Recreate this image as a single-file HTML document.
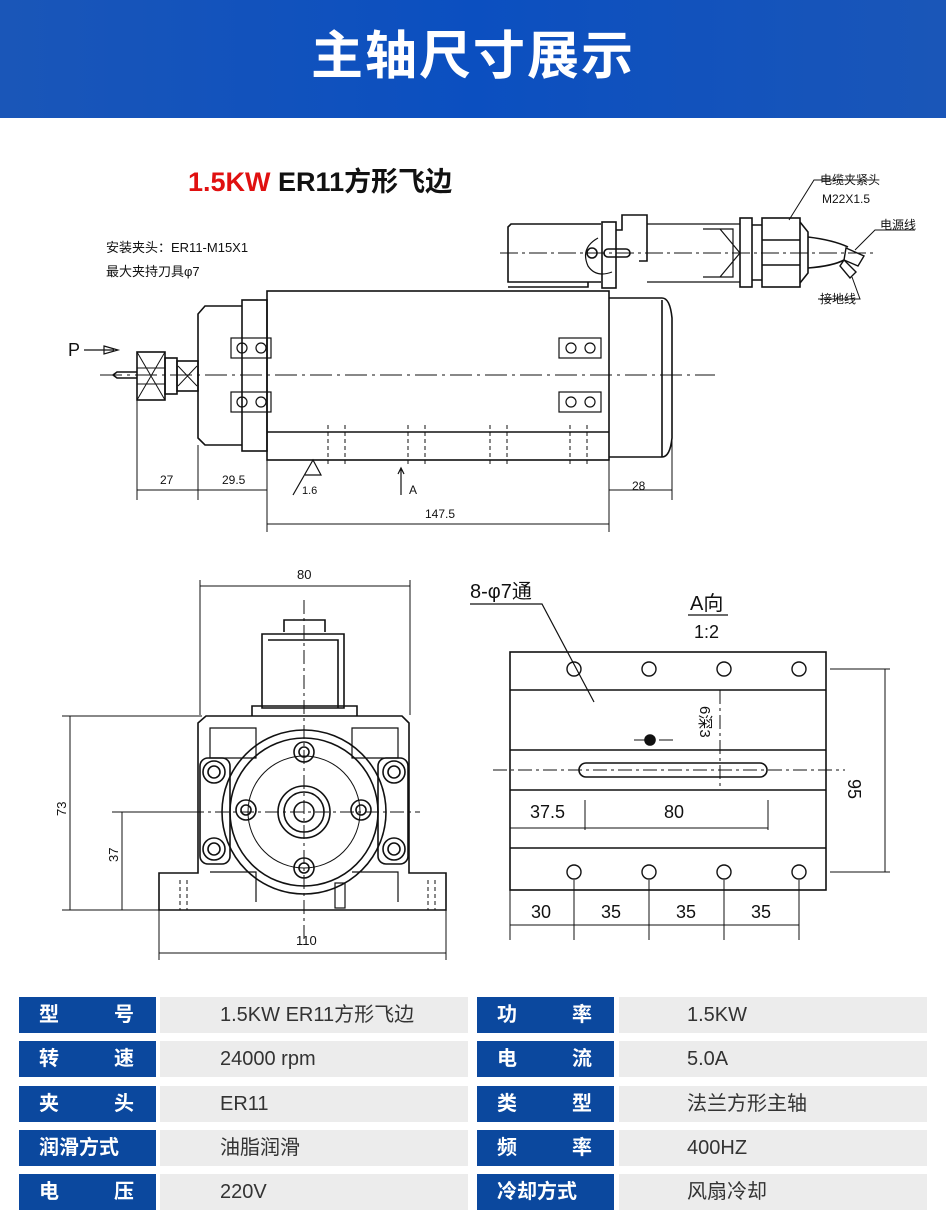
<!DOCTYPE html>
<html><head><meta charset="utf-8"><style>
body{margin:0;width:946px;height:1227px;background:#fff;position:relative;overflow:hidden;font-family:"Liberation Sans","Noto Sans CJK SC",sans-serif}
.hdr{position:absolute;left:0;top:0;width:946px;height:118px;background:linear-gradient(90deg,#1a56b8,#0b4fc0 50%,#1a56b8);color:#fff;font-weight:bold;font-size:52px;text-align:center;line-height:114px;letter-spacing:2px}
.sub{position:absolute;left:188px;top:160px;font-size:27px;font-weight:bold;color:#111}
.sub span{color:#e01010}
.c{position:absolute;height:36px;line-height:36px;font-size:20px}
.l{background:#0b489e;color:#fff;font-weight:bold;width:137px;box-sizing:border-box;padding:0 22px 0 20px;display:flex;justify-content:space-between}
.v{background:#ececec;color:#333;box-sizing:border-box;padding-left:60px}
svg{position:absolute;left:0;top:0}
svg text{font-family:"Liberation Sans","Noto Sans CJK SC",sans-serif;fill:#111}
</style></head><body>
<div class="hdr">主轴尺寸展示</div>
<div class="sub"><span>1.5KW</span> ER11方形飞边</div>
<svg width="946" height="990" viewBox="0 0 946 990" fill="none" stroke="#111" stroke-width="1.6">
<!-- side view -->
<text x="106" y="252" font-size="13" stroke="none">安装夹头：ER11-M15X1</text>
<text x="106" y="276" font-size="13" stroke="none">最大夹持刀具φ7</text>
<text x="68" y="356" font-size="18" stroke="none">P</text>
<path d="M84 350h30M104 346l14 4-14 4z" stroke-width="1.2"/>
<line x1="100" y1="375" x2="715" y2="375" stroke-width="1" stroke-dasharray="22 5 3 5"/>
<rect x="267" y="291" width="342" height="169"/>
<line x1="267" y1="432" x2="609" y2="432"/>
<path d="M609 298h53q8 0 10 20v120q-2 19-10 19h-53"/>
<path d="M662 300v157"/>
<rect x="242" y="300" width="25" height="151"/>
<path d="M242 306h-37l-7 8v124l7 7h37"/>
<rect x="137" y="352" width="28" height="48"/><path d="M137 352l28 48M165 352l-28 48M137 368h28M137 384h28" stroke-width="1"/>
<rect x="165" y="358" width="12" height="36"/>
<rect x="177" y="361" width="21" height="30"/><path d="M178 366l19 20M197 366l-19 20" stroke-width="1"/>
<path d="M137 372h-20l-4 3 4 3h20"/>
<g stroke-width="1.2">
<rect x="231" y="338" width="40" height="20"/><rect x="231" y="392" width="40" height="20"/>
<rect x="559" y="338" width="42" height="20"/><rect x="559" y="392" width="42" height="20"/>
<circle cx="242" cy="348" r="5"/><circle cx="261" cy="348" r="5"/><circle cx="242" cy="402" r="5"/><circle cx="261" cy="402" r="5"/>
<circle cx="571" cy="348" r="5"/><circle cx="590" cy="348" r="5"/><circle cx="571" cy="402" r="5"/><circle cx="590" cy="402" r="5"/>
</g>
<g stroke-width="1" stroke-dasharray="4 3">
<path d="M328 425v42M345 425v42M408 425v42M425 425v42M490 425v42M507 425v42M570 425v42M587 425v42"/>
</g>
<path d="M293 495l20-35 8 15h-16" stroke-width="1.2"/><text x="302" y="494" font-size="11" stroke="none">1.6</text>
<path d="M401 495v-26M398 474l3-6 3 6" stroke-width="1.2"/><text x="409" y="494" font-size="12" stroke="none">A</text>
<g stroke-width="1">
<path d="M137 400v100M198 445v55M267 460v72M609 460v72M672 440v60M137 490h61M198 490h69M609 490h63M267 524h342"/>
</g>
<text x="160" y="484" font-size="12" stroke="none">27</text><text x="222" y="484" font-size="12" stroke="none">29.5</text>
<text x="632" y="490" font-size="12" stroke="none">28</text><text x="425" y="518" font-size="12" stroke="none">147.5</text>
<!-- connector -->
<path d="M601 224h-90l-3 3v55h93M508 287h80v-5"/>
<rect x="602" y="222" width="14" height="66"/><path d="M616 230h6v-15h25v46h-8"/>
<path d="M598 238q-18 10-10 28q8 12 24 6" stroke-width="1.2"/><circle cx="592" cy="253" r="5"/><rect x="604" y="249" width="26" height="8" rx="4"/>
<path d="M647 224h93M647 282h93M703 229h30v48h-30M720 229l20 24-20 24" stroke-width="1.2"/>
<rect x="740" y="218" width="12" height="69"/><rect x="762" y="218" width="38" height="69"/><path d="M762 240h38M762 265h38M752 225h10M752 280h10M800 222l8 10v41l-8 10"/>
<path d="M808 237q25 3 40 10M808 268q25-2 36-8"/>
<path d="M846 248l18 8-6 10-14-6zM844 260l12 12-6 6-10-12z" stroke-width="1.4"/>
<path d="M789 220l25-40h60M855 250l20-20h40M852 277l8 22h-42" stroke-width="1"/>
<line x1="500" y1="253" x2="875" y2="253" stroke-width="1" stroke-dasharray="18 4 3 4"/>
<text x="820" y="184" font-size="12" stroke="none">电缆夹紧头</text><text x="822" y="203" font-size="12" stroke="none">M22X1.5</text>
<text x="880" y="229" font-size="12" stroke="none">电源线</text><text x="820" y="303" font-size="12" stroke="none">接地线</text>
<!-- front view -->
<path d="M200 580v135M410 580v135M200 586h210" stroke-width="1"/>
<text x="297" y="579" font-size="13" stroke="none">80</text>
<path d="M284 632v-12h41v12M262 634h82v74h-82z M268 640h70v68" />
<path d="M252 716v-10h105v10"/>
<path d="M206 716h196l7 7v150h37v37H159v-37h39V723z"/>
<path d="M210 728h46v30h-46zM352 728h46v30h-46zM210 872h46v30M352 872h46v30" stroke-width="1.2"/>
<rect x="200" y="758" width="30" height="106" rx="8"/><rect x="378" y="758" width="30" height="106" rx="8"/>
<circle cx="304" cy="812" r="82"/><circle cx="304" cy="812" r="74"/><circle cx="304" cy="812" r="56" stroke-width="1"/>
<circle cx="304" cy="812" r="26"/><circle cx="304" cy="812" r="20"/><circle cx="304" cy="812" r="10"/>
<g><circle cx="304" cy="752" r="10"/><circle cx="304" cy="752" r="5"/><circle cx="304" cy="868" r="10"/><circle cx="304" cy="868" r="5"/><circle cx="246" cy="810" r="10"/><circle cx="246" cy="810" r="5"/><circle cx="361" cy="810" r="10"/><circle cx="361" cy="810" r="5"/>
<circle cx="214" cy="772" r="11"/><circle cx="214" cy="772" r="6"/><circle cx="214" cy="849" r="11"/><circle cx="214" cy="849" r="6"/><circle cx="394" cy="772" r="11"/><circle cx="394" cy="772" r="6"/><circle cx="394" cy="849" r="11"/><circle cx="394" cy="849" r="6"/></g>
<path d="M304 600v340M190 812h230" stroke-width="1" stroke-dasharray="14 4 3 4"/>
<path d="M180 880v30M435 880v30M187 880v30M428 880v30" stroke-width="1" stroke-dasharray="4 3"/>
<rect x="335" y="883" width="10" height="25" stroke-width="1.2"/>
<path d="M62 716h140M70 716v194M112 812h90M122 812v98M62 910h100M159 910v50M446 910v50M159 953h287" stroke-width="1"/>
<text x="62" y="820" font-size="13" stroke="none" transform="rotate(-90 62 816)">73</text>
<text x="114" y="866" font-size="13" stroke="none" transform="rotate(-90 114 862)">37</text>
<text x="296" y="945" font-size="13" stroke="none">110</text>
<!-- A view -->
<text x="470" y="598" font-size="20" stroke="none">8-φ7通</text>
<path d="M470 604h72l52 98" stroke-width="1.2"/>
<text x="690" y="610" font-size="20" stroke="none">A向</text><path d="M688 615h40" stroke-width="1.2"/>
<text x="694" y="638" font-size="18" stroke="none">1:2</text>
<rect x="510" y="652" width="316" height="238"/>
<path d="M510 690h316M510 750h316M510 790h316M510 848h316" stroke-width="1.4"/>
<g stroke-width="1.4"><circle cx="574" cy="669" r="7"/><circle cx="649" cy="669" r="7"/><circle cx="724" cy="669" r="7"/><circle cx="799" cy="669" r="7"/>
<circle cx="574" cy="872" r="7"/><circle cx="649" cy="872" r="7"/><circle cx="724" cy="872" r="7"/><circle cx="799" cy="872" r="7"/></g>
<rect x="579" y="763" width="188" height="14" rx="7"/>
<circle cx="650" cy="740" r="5" fill="#111"/>
<path d="M493 770h352M720 690v100M634 740h40" stroke-width="1" stroke-dasharray="14 4 3 4"/>
<text x="700" y="706" font-size="15" stroke="none" transform="rotate(90 700 706)">6深3</text>
<path d="M830 669h60M830 872h60M885 669v203M510 800v140M585 800v30M768 800v30M510 828h258" stroke-width="1"/>
<path d="M574 880v60M649 880v60M724 880v60M799 880v60M510 925h289" stroke-width="1"/>
<text x="873" y="774" font-size="18" stroke="none" transform="rotate(90 858 764)">95</text>
<text x="530" y="818" font-size="18" stroke="none">37.5</text><text x="664" y="818" font-size="18" stroke="none">80</text>
<text x="531" y="918" font-size="18" stroke="none">30</text><text x="601" y="918" font-size="18" stroke="none">35</text><text x="676" y="918" font-size="18" stroke="none">35</text><text x="751" y="918" font-size="18" stroke="none">35</text>
</svg>
<div class="c l" style="left:19px;top:997px"><span>型</span><span>号</span></div><div class="c v" style="left:160px;top:997px;width:308px">1.5KW ER11方形飞边</div>
<div class="c l" style="left:19px;top:1041px"><span>转</span><span>速</span></div><div class="c v" style="left:160px;top:1041px;width:308px">24000 rpm</div>
<div class="c l" style="left:19px;top:1086px"><span>夹</span><span>头</span></div><div class="c v" style="left:160px;top:1086px;width:308px">ER11</div>
<div class="c l" style="left:19px;top:1130px"><span>润滑方式</span></div><div class="c v" style="left:160px;top:1130px;width:308px">油脂润滑</div>
<div class="c l" style="left:19px;top:1174px"><span>电</span><span>压</span></div><div class="c v" style="left:160px;top:1174px;width:308px">220V</div>
<div class="c l" style="left:477px;top:997px"><span>功</span><span>率</span></div><div class="c v" style="left:619px;top:997px;width:308px;padding-left:68px">1.5KW</div>
<div class="c l" style="left:477px;top:1041px"><span>电</span><span>流</span></div><div class="c v" style="left:619px;top:1041px;width:308px;padding-left:68px">5.0A</div>
<div class="c l" style="left:477px;top:1086px"><span>类</span><span>型</span></div><div class="c v" style="left:619px;top:1086px;width:308px;padding-left:68px">法兰方形主轴</div>
<div class="c l" style="left:477px;top:1130px"><span>频</span><span>率</span></div><div class="c v" style="left:619px;top:1130px;width:308px;padding-left:68px">400HZ</div>
<div class="c l" style="left:477px;top:1174px"><span>冷却方式</span></div><div class="c v" style="left:619px;top:1174px;width:308px;padding-left:68px">风扇冷却</div>
</body></html>
